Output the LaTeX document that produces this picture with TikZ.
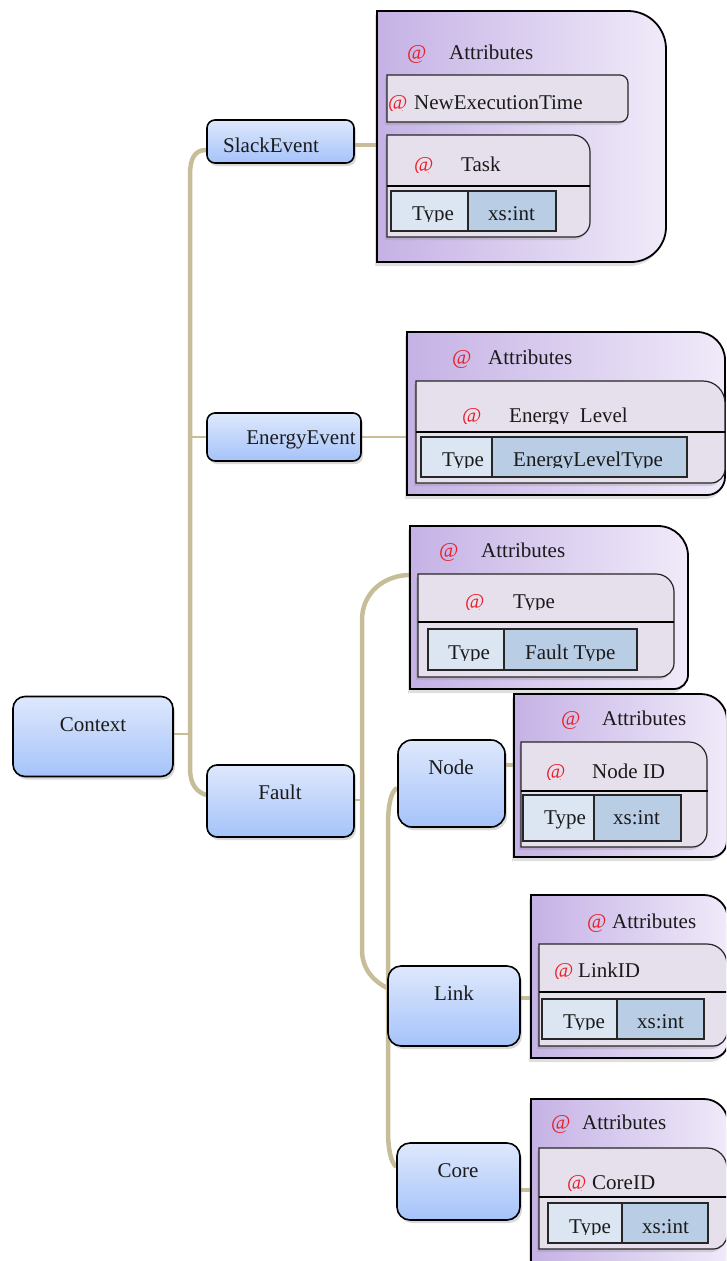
\documentclass[tikz,border=0pt]{standalone}
\usepackage{fontspec}
\setmainfont{Liberation Serif}
\usetikzlibrary{shadows}
\pgfdeclarelayer{bg}
\pgfsetlayers{bg,main}
\definecolor{trunkc}{HTML}{C7BE99}
\definecolor{bluetop}{HTML}{DEE8FC}
\definecolor{bluebot}{HTML}{A5C3FA}
\definecolor{purl}{HTML}{C5B2E5}
\definecolor{purr}{HTML}{F0EAF9}
\definecolor{innerc}{HTML}{E6E0EC}
\definecolor{typec}{HTML}{DCE6F2}
\definecolor{valc}{HTML}{B9CDE5}
\definecolor{atred}{HTML}{E8202A}
\definecolor{inkc}{HTML}{1A1A1A}
% x1 y1 x2 y2 rtop rbot style : square left corners, rounded right corners
\newcommand\attrshape[7]{%
  \path[#7] (#1,#2) -- ({#3-#5},#2) .. controls ({#3-0.448*#5},#2) and (#3,{#2+0.448*#5}) .. (#3,{#2+#5})
    -- (#3,{#4-#6}) .. controls (#3,{#4-0.448*#6}) and ({#3-0.448*#6},#4) .. ({#3-#6},#4) -- (#1,#4) -- cycle;}
\newcommand\cutline[2]{\begin{scope}\clip (0,{#1-40}) rectangle (726,{#1+1.5});#2\end{scope}}
\begin{document}
\begin{tikzpicture}[x=1pt,y=-1pt,font=\fontsize{21}{25}\selectfont,
 bluebox/.style={draw=black, line width=1.6pt, rounded corners=10pt, top color=bluetop, bottom color=bluebot, inner sep=0pt, drop shadow={shadow xshift=2pt, shadow yshift=-3pt, opacity=0.3}},
 attrbox/.style={draw=black, line width=1.8pt, left color=purl, right color=purr, drop shadow={shadow xshift=-2pt, shadow yshift=-4pt, opacity=0.25}},
 innerbox/.style={draw=black!85, line width=1.2pt, fill=innerc, drop shadow={shadow xshift=-2pt, shadow yshift=-3pt, opacity=0.25}},
 typecell/.style={draw=black!85, line width=1.3pt, fill=typec},
 valcell/.style={draw=black!85, line width=1.3pt, fill=valc},
 sepline/.style={draw=black, line width=1.6pt},
 lbl/.style={anchor=base, inner sep=0pt, text=inkc},
 txt/.style={anchor=base west, inner sep=0pt, text=inkc},
 atsign/.style={anchor=base west, inner sep=0pt, text=atred},
 trunk/.style={draw=trunkc, line width=4.5pt},
 thinc/.style={draw=trunkc, line width=2pt},
]
\useasboundingbox (0,0) rectangle (726,1261);
\clip (0,0) rectangle (726,1261);

% ---------- blue boxes ----------
\node[bluebox, minimum width=160pt, minimum height=80pt, rounded corners=12pt] (ctx) at (93,736.5) {};
\node[bluebox, minimum width=147pt, minimum height=72pt] (fault) at (280.5,801) {};
\node[bluebox, minimum width=147pt, minimum height=43pt, rounded corners=8pt] (slack) at (280.5,141.5) {};
\node[bluebox, minimum width=154pt, minimum height=48pt, rounded corners=8pt] (energy) at (284,437) {};
\node[bluebox, minimum width=107pt, minimum height=87pt, rounded corners=14pt] (node) at (451.5,783.5) {};
\node[bluebox, minimum width=132pt, minimum height=80pt, rounded corners=13pt] (link) at (454,1006) {};
\node[bluebox, minimum width=123pt, minimum height=77pt, rounded corners=13pt] (core) at (458.5,1181.5) {};

\node[lbl] (ctxl) at (93,731) {Context};
\node[lbl] (faultl) at (280,799) {Fault};
\node[lbl] (slackl) at (271,152) {SlackEvent};
\node[lbl] (energyl) at (301,444) {EnergyEvent};
\node[lbl] (nodel) at (451,774) {Node};
\node[lbl] (linkl) at (454,1000) {Link};
\node[lbl] (corel) at (458,1177) {Core};

% ---------- SlackEvent attributes ----------
\attrshape{377}{11}{666}{262}{38}{35}{attrbox}
\node[atsign] (sAat) at (407,59) {@};
\node[txt] (sAt) at (449,59) {Attributes};
\attrshape{387}{75}{628}{122}{8}{8}{innerbox}
\cutline{109}{\node[atsign] (sNat) at (388,109) {@}; \node[txt] (sN) at (414,109) {NewExecutionTime};}
\attrshape{387}{135}{590}{237}{17}{15}{innerbox}
\draw[sepline] (387,186) -- (590,186);
\draw[typecell] (391,191) rectangle (468,231);
\draw[valcell] (468,191) rectangle (556,231);
\cutline{171}{\node[atsign] (sTat) at (414,171) {@}; \node[txt] (sT) at (461,171) {Task};}
\cutline{220}{\node[txt] (sTy) at (412,220) {Type};}
\node[txt] (sTv) at (488,220) {xs:int};

% ---------- EnergyEvent attributes ----------
\attrshape{407}{332}{725}{495}{28}{18}{attrbox}
\node[atsign] (eAat) at (452,364) {@};
\node[txt] (eAt) at (488,364) {Attributes};
\attrshape{416}{381}{725}{483}{22}{14}{innerbox}
\draw[sepline] (416,432) -- (725,432);
\draw[typecell] (421,437) rectangle (492,477);
\draw[valcell] (492,437) rectangle (687,477);
\cutline{422}{\node[atsign] (eLat) at (462,422) {@}; \node[txt] (eL) at (509,422) {Energy~~Level};}
\cutline{466}{\node[txt] (eTy) at (442,466) {Type}; \node[txt] (eTv) at (513,466) {EnergyLevelType};}

% ---------- Fault attributes ----------
\attrshape{410}{526}{688}{689}{30}{14}{attrbox}
\node[atsign] (fAat) at (439,557) {@};
\node[txt] (fAt) at (481,557) {Attributes};
\attrshape{418}{574}{674}{677}{18}{14}{innerbox}
\draw[sepline] (418,622) -- (674,622);
\draw[typecell] (428,629) rectangle (504,670);
\draw[valcell] (504,629) rectangle (637,670);
\cutline{608}{\node[atsign] (fHat) at (465,608) {@}; \node[txt] (fH) at (513,608) {Type};}
\cutline{659}{\node[txt] (fTy) at (448,659) {Type}; \node[txt] (fTv) at (525,659) {Fault Type};}

% ---------- Node attributes ----------
\attrshape{514}{694}{727}{857}{26}{16}{attrbox}
\node[atsign] (nAat) at (561,725) {@};
\node[txt] (nAt) at (602,725) {Attributes};
\attrshape{521}{742}{707}{847}{18}{15}{innerbox}
\draw[sepline] (521,791) -- (708,791);
\draw[typecell] (523,795) rectangle (594,841);
\draw[valcell] (594,795) rectangle (681,841);
\cutline{778}{\node[atsign] (nHat) at (546,778) {@}; \node[txt] (nH) at (592,778) {Node ID};}
\node[txt] (nTy) at (544,824) {Type};
\node[txt] (nTv) at (613,824) {xs:int};

% ---------- Link attributes ----------
\attrshape{531}{895}{728}{1058}{24}{16}{attrbox}
\node[atsign] (lAat) at (587,928) {@};
\node[txt] (lAt) at (612,928) {Attributes};
\attrshape{539}{944}{727}{1046}{20}{14}{innerbox}
\draw[sepline] (539,992) -- (727,992);
\draw[typecell] (542,999) rectangle (617,1039);
\draw[valcell] (617,999) rectangle (704,1039);
\cutline{977}{\node[atsign] (lHat) at (554,977) {@}; \node[txt] (lH) at (578,977) {LinkID};}
\cutline{1028}{\node[txt] (lTy) at (563,1028) {Type};}
\node[txt] (lTv) at (637,1028) {xs:int};

% ---------- Core attributes ----------
\attrshape{531}{1099}{728}{1300}{24}{16}{attrbox}
\node[atsign] (cAat) at (551,1129) {@};
\node[txt] (cAt) at (582,1129) {Attributes};
\attrshape{539}{1148}{727}{1249}{20}{14}{innerbox}
\draw[sepline] (539,1197) -- (727,1197);
\draw[typecell] (548,1203) rectangle (622,1243);
\draw[valcell] (622,1203) rectangle (708,1243);
\cutline{1189}{\node[atsign] (cHat) at (567,1189) {@}; \node[txt] (cH) at (592,1189) {CoreID};}
\cutline{1233}{\node[txt] (cTy) at (569,1233) {Type};}
\node[txt] (cTv) at (642,1233) {xs:int};

% ---------- connectors ----------
\coordinate (tCtx) at (190,734);
\coordinate (tEn) at (190,437);
\coordinate (sattrL) at (377,145);
\coordinate (eattrL) at (407,437);
\coordinate (fattrL) at (410,575);
\coordinate (tFault) at (362,800);
\coordinate (nattrL) at (514,765);
\coordinate (lattrL) at (531,998);
\coordinate (cattrL) at (531,1190);
\begin{pgfonlayer}{bg}
\draw[trunk] (slack.west |- 0,150) .. controls (195,150) and (190,158) .. (190,175) -- (190,768)
   .. controls (190,785) and (197,792) .. (fault.west |- 0,795);
\draw[thinc] (ctx.east |- tCtx) -- (tCtx);
\draw[thinc] (tEn) -- (energy.west);
\draw[thinc] (energy.east) -- (eattrL);
\draw[trunk] (slack.east |- sattrL) -- (sattrL);
\draw[thinc] (fault.east |- tFault) -- (tFault);
\draw[trunk] (fattrL) .. controls (385,575) and (362,592) .. (362,620) -- (362,950)
   .. controls (362,970) and (375,982) .. (link.west |- 0,988);
\draw[trunk] (node.west |- 0,788) .. controls (391,791) and (388,805) .. (388,825) -- (388,1130)
   .. controls (388,1150) and (391,1162) .. (core.west |- 0,1167);
\draw[trunk] (node.east |- nattrL) -- (nattrL);
\draw[trunk] (link.east |- lattrL) -- (lattrL);
\draw[trunk] (core.east |- cattrL) -- (cattrL);
\end{pgfonlayer}
\end{tikzpicture}
\end{document}
